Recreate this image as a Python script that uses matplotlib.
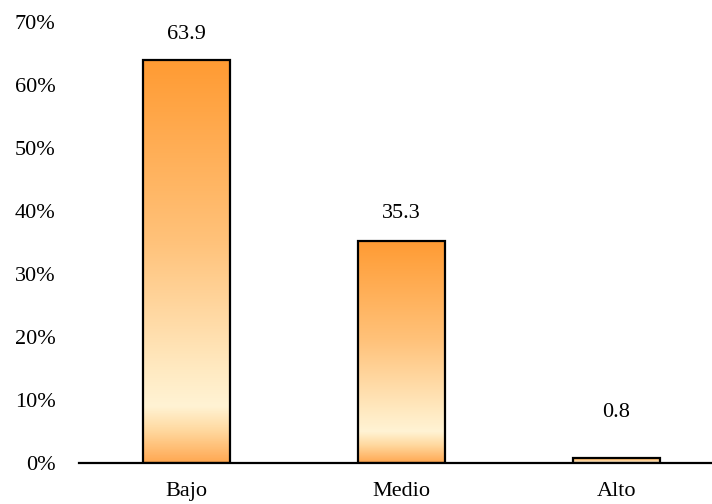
import numpy as np
import matplotlib.pyplot as plt
from matplotlib.colors import LinearSegmentedColormap
from matplotlib.patches import Rectangle

categories = ["Bajo", "Medio", "Alto"]
values = [63.9, 35.3, 0.8]
value_labels = ["63.9", "35.3", "0.8"]
y_ticks = [0, 10, 20, 30, 40, 50, 60, 70]

plt.rcParams['font.family'] = ['Liberation Serif', 'DejaVu Serif']

# top of the bar -> bottom of the bar
grad = LinearSegmentedColormap.from_list("bar", [
    (0.0, "#FF9B33"),
    (0.45, "#FFC27A"),
    (0.78, "#FFEBC4"),
    (0.86, "#FFF3D4"),
    (0.92, "#FFD9A0"),
    (1.0, "#FFA852"),
])

fig = plt.figure(figsize=(7.12, 5.04), dpi=100)
ax = fig.add_axes([79 / 712, 41 / 504, (712 - 79) / 712, 441 / 504])

width = 87 / 215
x = np.arange(len(categories))
bars = ax.bar(x, values, width=width, color="none", edgecolor="black", linewidth=1.6, zorder=3)

img = np.linspace(0, 1, 256).reshape(-1, 1)
for b in bars:
    x0, y0 = b.get_x(), b.get_y()
    w, h = b.get_width(), b.get_height()
    im = ax.imshow(img, cmap=grad, aspect="auto", extent=[x0, x0 + w, y0, y0 + h],
                   origin="upper", zorder=2)
    clip = Rectangle((x0, y0), w, h, transform=ax.transData)
    im.set_clip_path(clip)

# label gap above each bar (points); the small bar's label sits higher
label_gap = [11.5, 13, 26]
for xi, v, lab, gap in zip(x, values, value_labels, label_gap):
    ax.annotate(lab, (xi, v), xytext=(0, gap), textcoords="offset points",
                ha="center", va="bottom", fontsize=16)

ax.set_xlim(-0.5, (712 - 186.5) / 215)
ax.set_ylim(0, 70)
ax.set_yticks(y_ticks)
ax.set_yticklabels([f"{t}%" for t in y_ticks])
ax.set_xticks(x)
ax.set_xticklabels(categories)
ax.tick_params(axis="both", length=0, labelsize=16)
ax.tick_params(axis="y", pad=17)
ax.tick_params(axis="x", pad=13.5)

for s in ["top", "right", "left"]:
    ax.spines[s].set_visible(False)
ax.spines["bottom"].set_linewidth(1.6)
ax.spines["bottom"].set_zorder(4)

fig.savefig("out.png", dpi=100)
